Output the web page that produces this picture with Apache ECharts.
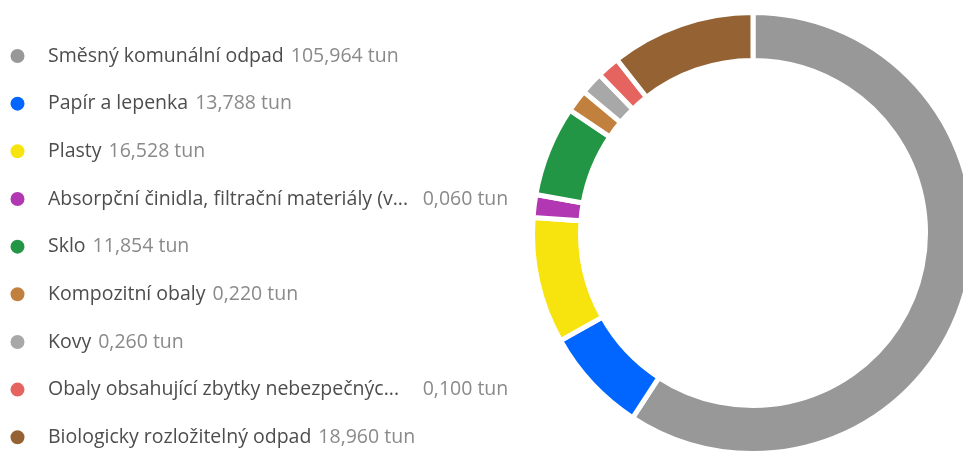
<!DOCTYPE html>
<html>
<head>
<meta charset="utf-8">
<script src="https://cdn.jsdelivr.net/npm/echarts@6/dist/echarts.min.js"></script>
<style>
  html, body { margin: 0; padding: 0; background: #fff; }
  #chart { width: 963px; height: 451px; }
</style>
</head>
<body>
<div id="chart"></div>
<script>
// kategorie odpadu a množství v tunách
const categories = [
  'Směsný komunální odpad',
  'Papír a lepenka',
  'Plasty',
  'Absorpční činidla, filtrační materiály (v...',
  'Sklo',
  'Kompozitní obaly',
  'Kovy',
  'Obaly obsahující zbytky nebezpečnýc...',
  'Biologicky rozložitelný odpad'
];
const values = [105.964, 13.788, 16.528, 0.060, 11.854, 0.220, 0.260, 0.100, 18.960];
const colors = ['#989898', '#0066ff', '#f7e40f', '#b237b2', '#229645', '#c2803f', '#a8a8a8', '#e56460', '#956333'];

function fmt(v) {
  return v.toFixed(3).replace('.', ',') + ' tun';
}

const chart = echarts.init(document.getElementById('chart'));

const data = categories.map(function (name, i) {
  return { name: name, value: values[i], itemStyle: { color: colors[i] } };
});

const font = { fontSize: 19.5, fontFamily: 'Open Sans', lineHeight: 20 };

chart.setOption({
  animation: false,
  legend: {
    orient: 'vertical',
    left: 3.5,
    top: 41,
    height: 600,
    icon: 'circle',
    itemWidth: 16,
    itemHeight: 16,
    itemGap: 27.66,
    selectedMode: false,
    formatter: function (name) {
      const i = categories.indexOf(name);
      const key = name.endsWith('...') ? 'nt' : 'n';
      return '{' + key + '|' + name + '}{v|' + fmt(values[i]) + '}';
    },
    textStyle: {
      rich: {
        n: Object.assign({ color: '#4d4d4d', padding: [0, 0, 0, 17.5] }, font),
        nt: Object.assign({ color: '#4d4d4d', padding: [0, 0, 0, 17.5], width: 367.7 }, font),
        v: Object.assign({ color: '#8a8a8a', padding: [0, 0, 0, 7] }, font)
      }
    }
  },
  series: [{
    type: 'pie',
    center: [753, 233],
    radius: [172.5, 220.5],
    startAngle: 90,
    clockwise: true,
    minAngle: 6,
    avoidLabelOverlap: false,
    label: { show: false },
    labelLine: { show: false },
    itemStyle: { borderColor: '#fff', borderWidth: 5 },
    data: data
  }]
});
</script>
</body>
</html>
